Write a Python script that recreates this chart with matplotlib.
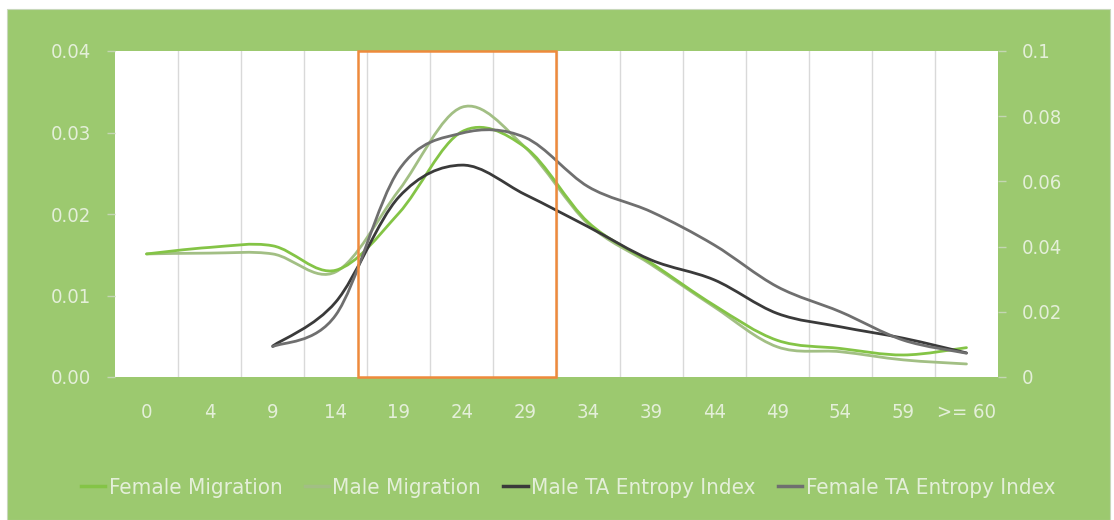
import matplotlib
matplotlib.use("Agg")
import matplotlib.pyplot as plt
from matplotlib.path import Path
from matplotlib.patches import PathPatch, Rectangle
from matplotlib.lines import Line2D

age_labels = ["0", "4", "9", "14", "19", "24", "29", "34", "39", "44", "49", "54", "59", ">= 60"]

# migration shares (left axis)
female_migration = [0.0151, 0.0159, 0.0161, 0.0131, 0.0201, 0.0301, 0.0282, 0.0190, 0.0140,
                    0.0088, 0.0045, 0.0035, 0.0027, 0.0036]
male_migration = [0.0151, 0.0152, 0.0151, 0.0129, 0.0229, 0.0331, 0.0282, 0.0188, 0.0138,
                  0.0086, 0.0037, 0.0031, 0.0021, 0.0016]

# entropy index (right axis), starts at the "9" group
male_entropy = [0.0095, 0.0230, 0.0552, 0.0650, 0.0560, 0.0461, 0.0359, 0.0298, 0.0195,
                0.0154, 0.0119, 0.0074]
female_entropy = [0.0093, 0.0190, 0.0635, 0.0748, 0.0735, 0.0584, 0.0507, 0.0405, 0.0277,
                  0.0200, 0.0113, 0.0073]
entropy_start = 2

left_ticks = [0.0, 0.01, 0.02, 0.03, 0.04]
left_tick_labels = ["0.00", "0.01", "0.02", "0.03", "0.04"]
right_ticks = [0.0, 0.02, 0.04, 0.06, 0.08, 0.1]
right_tick_labels = ["0", "0.02", "0.04", "0.06", "0.08", "0.1"]

BG = "#9cc96f"
TXT = "#e4efd9"
plt.rcParams["font.family"] = ["DejaVu Sans"]
plt.rcParams["font.stretch"] = "condensed"


def smooth_path(xs, ys):
    # Catmull-Rom style cubic bezier through every point
    pts = list(zip(xs, ys))
    verts = [pts[0]]
    codes = [Path.MOVETO]
    n = len(pts)
    for i in range(n - 1):
        p0 = pts[i - 1] if i > 0 else pts[i]
        p1 = pts[i]
        p2 = pts[i + 1]
        p3 = pts[i + 2] if i + 2 < n else pts[i + 1]
        c1 = (p1[0] + (p2[0] - p0[0]) / 6, p1[1] + (p2[1] - p0[1]) / 6)
        c2 = (p2[0] - (p3[0] - p1[0]) / 6, p2[1] - (p3[1] - p1[1]) / 6)
        verts += [c1, c2, p2]
        codes += [Path.CURVE4] * 3
    return Path(verts, codes)


def draw_curve(ax, xs, ys, color, lw=2.0):
    patch = PathPatch(smooth_path(xs, ys), facecolor="none", edgecolor=color,
                      lw=lw, capstyle="round", zorder=3)
    ax.add_patch(patch)


fig = plt.figure(figsize=(11.14, 5.2), dpi=100, facecolor="white")
fig.patches.append(Rectangle((7 / 1114, 0), 1103 / 1114, 511 / 520, transform=fig.transFigure,
                             facecolor=BG, edgecolor="#c8d8bb", lw=0.8, zorder=-10))

ax = fig.add_axes([115 / 1114, 143 / 520, 883 / 1114, 326 / 520])
ax.set_facecolor("white")
ax2 = ax.twinx()

x_all = list(range(len(age_labels)))
x_ent = list(range(entropy_start, entropy_start + len(male_entropy)))

c_female = "#84c446"
c_male = "#a2bf84"
c_male_ent = "#3a3a3a"
c_female_ent = "#6f6f6f"

draw_curve(ax, x_all, male_migration, c_male)
draw_curve(ax, x_all, female_migration, c_female)
draw_curve(ax2, x_ent, male_entropy, c_male_ent)
draw_curve(ax2, x_ent, female_entropy, c_female_ent)

ax.set_xlim(-0.5, len(age_labels) - 0.5)
ax.set_ylim(0, 0.04)
ax2.set_ylim(0, 0.1)

# category separators
for b in range(1, len(age_labels)):
    ax.axvline(b - 0.5, color="#d9d9d9", lw=1.0, zorder=1)

ax.set_xticks(x_all)
ax.set_xticklabels(age_labels)
ax.set_yticks(left_ticks)
ax.set_yticklabels(left_tick_labels)
ax2.set_yticks(right_ticks)
ax2.set_yticklabels(right_tick_labels)

ax.tick_params(axis="x", length=0, pad=19, labelsize=14.5, labelcolor=TXT)
ax.tick_params(axis="y", length=6, width=1, color="#c4d6b3", pad=11, labelsize=14.5, labelcolor=TXT)
ax2.tick_params(axis="y", length=6, width=1, color="#c4d6b3", pad=11, labelsize=14.5, labelcolor=TXT)

for a in (ax, ax2):
    for s in a.spines.values():
        s.set_visible(False)

# highlighted age band
ax2.add_patch(Rectangle((3.36, 0.0), 3.125, 0.1, facecolor="none", edgecolor="#ee8a3c",
                        lw=1.8, zorder=5, clip_on=False))

handles = [
    Line2D([], [], color=c_female, lw=2.5),
    Line2D([], [], color=c_male, lw=2.5),
    Line2D([], [], color=c_male_ent, lw=2.5),
    Line2D([], [], color=c_female_ent, lw=2.5),
]
names = ["Female Migration", "Male Migration", "Male TA Entropy Index", "Female TA Entropy Index"]
leg = fig.legend(handles, names, loc="center", bbox_to_anchor=(568 / 1114, 32 / 520), ncol=4,
                 frameon=False, fontsize=16, handlelength=1.1, handletextpad=0.15,
                 columnspacing=1.0)
for t in leg.get_texts():
    t.set_color(TXT)

fig.savefig("out.png", dpi=100, facecolor=fig.get_facecolor())
